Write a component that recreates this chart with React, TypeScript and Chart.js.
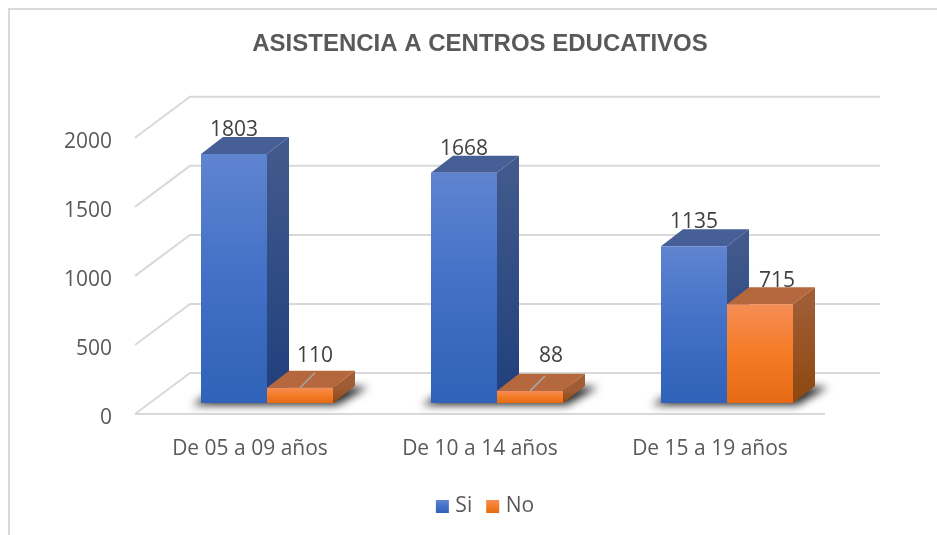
import React, { useEffect, useRef } from "react";
import { Chart, registerables } from "chart.js";

Chart.register(...registerables);

const categories = ["De 05 a 09 años", "De 10 a 14 años", "De 15 a 19 años"];
const siValues = [1803, 1668, 1135];
const noValues = [110, 88, 715];
const yTicks = ["0", "500", "1000", "1500", "2000"];
const titleText = "ASISTENCIA A CENTROS EDUCATIVOS";

const DEPTH_X = 22;
const DEPTH_Y = 17;

type Palette = { front: [string, string, string]; side: [string, string]; top: string };
const BLUE: Palette = { front: ["#5f84d0", "#4270c6", "#2f62b8"], side: ["#41598c", "#1f3f7c"], top: "#475f97" };
const ORANGE: Palette = { front: ["#f58d55", "#f57b25", "#e66a14"], side: ["#a05c34", "#8c480e"], top: "#b5673e" };

function vGrad(ctx: CanvasRenderingContext2D, y0: number, y1: number, stops: string[]) {
  const g = ctx.createLinearGradient(0, y0, 0, y1);
  stops.forEach((c, i) => g.addColorStop(i / (stops.length - 1), c));
  return g;
}

function frontFill(p: Palette) {
  return (c: any) => {
    const y = c.chart.scales?.y;
    if (!y || typeof c.raw !== "number") return p.front[1];
    const y0 = y.getPixelForValue(c.raw);
    const y1 = y.getPixelForValue(0);
    if (!Number.isFinite(y0) || !Number.isFinite(y1)) return p.front[1];
    return vGrad(c.chart.ctx, y0, y1, p.front);
  };
}

const poly = (ctx: CanvasRenderingContext2D, pts: number[][]) => {
  ctx.beginPath();
  pts.forEach(([x, y], i) => (i ? ctx.lineTo(x, y) : ctx.moveTo(x, y)));
  ctx.closePath();
};

const floorAndWalls = {
  id: "floorAndWalls",
  afterLayout(chart: any) {
    // the legend sits a little right of the frame's centre
    if (chart.legend) {
      chart.legend.left = 5;
      chart.legend.right = chart.width + 5;
      chart.legend.adjustHitBoxes();
    }
  },
  beforeDatasetsDraw(chart: any) {
    const { ctx, chartArea: a, scales } = chart;
    const y = scales.y;
    ctx.save();
    ctx.strokeStyle = "#d9d9d9";
    ctx.lineWidth = 2;
    y.ticks.forEach((t: any) => {
      const p = y.getPixelForValue(t.value);
      ctx.beginPath();
      ctx.moveTo(a.left - 17, p + 11);
      ctx.lineTo(a.left + 38, p - 30);
      ctx.lineTo(a.right + 38, p - 30);
      ctx.stroke();
    });
    const z = y.getPixelForValue(0);
    ctx.beginPath();
    ctx.moveTo(a.left - 17, z + 11);
    ctx.lineTo(a.right - 17, z + 11);
    ctx.stroke();

    const metas = [chart.getDatasetMeta(0), chart.getDatasetMeta(1)];
    // soft shadow under each pair of bars
    metas[0].data.forEach((b: any, i: number) => {
      const o = metas[1].data[i];
      const l = b.x - b.width / 2;
      const r = o.x + o.width / 2;
      ctx.save();
      ctx.filter = "blur(4px)";
      ctx.fillStyle = "#262626";
      poly(ctx, [[l - 9, z + 2], [r + 4, z + 2], [r + DEPTH_X + 13, z - DEPTH_Y + 1], [l + DEPTH_X, z - DEPTH_Y]]);
      ctx.fill();
      ctx.restore();
    });
    // side and top faces, behind every front face
    [BLUE, ORANGE].forEach((pal, k) => {
      metas[k].data.forEach((b: any) => {
        const l = b.x - b.width / 2;
        const r = b.x + b.width / 2;
        ctx.fillStyle = vGrad(ctx, b.y, z, pal.side);
        poly(ctx, [[r, b.y], [r + DEPTH_X, b.y - DEPTH_Y], [r + DEPTH_X, z - DEPTH_Y], [r, z]]);
        ctx.fill();
        ctx.fillStyle = pal.top;
        poly(ctx, [[l, b.y], [l + DEPTH_X, b.y - DEPTH_Y], [r + DEPTH_X, b.y - DEPTH_Y], [r, b.y]]);
        ctx.fill();
      });
    });
    ctx.restore();
  },
};

// dx / dy of each label from its bar's top centre
const labelShift = [
  [[0, -24], [0, -24], [0, -24]],
  [[15, -32], [21, -35], [17, -23]],
];

const valueLabels = {
  id: "valueLabels",
  afterDatasetsDraw(chart: any) {
    const { ctx } = chart;
    ctx.save();
    ctx.font = '21px "Open Sans"';
    ctx.fillStyle = "#404040";
    ctx.textAlign = "center";
    ctx.textBaseline = "middle";
    chart.data.datasets.forEach((ds: any, k: number) => {
      chart.getDatasetMeta(k).data.forEach((b: any, i: number) => {
        const [dx, dy] = labelShift[k][i];
        ctx.fillText(String(ds.data[i]), b.x + dx, b.y + dy);
        if (k === 1 && i < 2) {
          ctx.strokeStyle = "#a6a6a6";
          ctx.lineWidth = 1.5;
          ctx.beginPath();
          ctx.moveTo(b.x, b.y);
          ctx.lineTo(b.x + 15, b.y - 15);
          ctx.stroke();
        }
      });
    });
    ctx.restore();
  },
  afterDraw(chart: any) {
    const { ctx, legend } = chart;
    if (!legend) return;
    ctx.save();
    // gradient legend swatches
    const top = legend.top + legend.options.labels.padding + 4;
    legend.legendHitBoxes.forEach((h: any, i: number) => {
      const pal = i === 0 ? BLUE : ORANGE;
      ctx.fillStyle = "#fff";
      ctx.fillRect(h.left - 1, top - 6, 13, 24);
      ctx.fillStyle = vGrad(ctx, top, top + 13, pal.front);
      ctx.fillRect(h.left, top, 13, 13);
    });
    ctx.restore();
  },
};

const frame = {
  id: "frame",
  beforeDraw(chart: any) {
    const { ctx, width, height } = chart;
    ctx.save();
    ctx.strokeStyle = "#d9d9d9";
    ctx.lineWidth = 2;
    ctx.strokeRect(1, 1, width + 10, height + 10);
    ctx.restore();
  },
};

export default function App() {
  const ref = useRef<HTMLCanvasElement>(null);
  useEffect(() => {
    const chart = new Chart(ref.current!, {
      type: "bar",
      data: {
        labels: categories,
        datasets: [
          { label: "Si", data: siValues, backgroundColor: frontFill(BLUE) as any },
          { label: "No", data: noValues, backgroundColor: frontFill(ORANGE) as any },
        ],
      },
      options: {
        animation: false,
        responsive: false,
        categoryPercentage: 0.574,
        barPercentage: 1,
        layout: { padding: { bottom: 8 } },
        plugins: {
          tooltip: { enabled: false },
          title: {
            display: true,
            text: titleText,
            color: "#595959",
            font: { family: '"Liberation Sans"', size: 24, weight: "bold" },
            padding: { top: 22, bottom: 68 },
          },
          legend: {
            position: "bottom",
            labels: {
              boxWidth: 9,
              boxHeight: 13,
              color: "#595959",
              font: { family: '"Open Sans"', size: 21 },
              padding: 14,
            },
          },
        },
        scales: {
          x: {
            afterFit: (s: any) => { s.height = 79; },
            grid: { display: false },
            border: { display: false },
            ticks: { color: "#595959", font: { family: '"Open Sans"', size: 21 }, labelOffset: -17, padding: 25, maxRotation: 0 },
          },
          y: {
            min: 0,
            max: 2000,
            afterFit: (s: any) => { s.width = 144; },
            grid: { display: false, drawTicks: false },
            border: { display: false },
            ticks: {
              stepSize: 500,
              callback: (_v: any, i: number) => yTicks[i],
              color: "#595959",
              font: { family: '"Open Sans"', size: 21 },
              labelOffset: 15,
              padding: 40,
            },
          },
          // empty axis reserving the room right of the plot
          rightGap: {
            type: "linear",
            position: "right",
            afterFit: (s: any) => { s.width = 110; },
            grid: { display: false },
            border: { display: false },
            ticks: { display: false },
          },
        },
      } as any,
      plugins: [frame, floorAndWalls, valueLabels],
    });
    return () => chart.destroy();
  }, []);
  return (
    <div style={{ position: "fixed", left: 0, top: 0, width: 937, height: 535, overflow: "hidden", background: "#fff" }}>
      <canvas ref={ref} width={944} height={527} style={{ position: "absolute", left: 8, top: 8 }} />
    </div>
  );
}
